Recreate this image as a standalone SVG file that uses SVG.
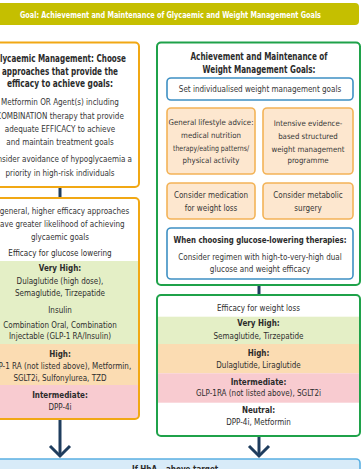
<svg xmlns="http://www.w3.org/2000/svg" width="362" height="469" viewBox="0 0 362 469">
<defs>
<style>
text{font-family:"Liberation Sans Narrow","DejaVu Sans Condensed","DejaVu Sans",sans-serif;font-stretch:condensed;fill:#363636;text-anchor:middle;font-size:8px}
.h{font-weight:bold;font-size:10px;fill:#2b2b2b}
.lb{font-weight:bold;fill:#2b2b2b}
.dk{fill:#2e2e2e}
.w{fill:#ffffff;font-weight:bold;font-size:8.4px}
.sm{font-size:7.8px}
.org{fill:#ffffff;stroke:#f1a814;stroke-width:2}
.grn{fill:#ffffff;stroke:#1fa24a;stroke-width:2}
.blu{fill:#ffffff;stroke:#3e90c3;stroke-width:1.6}
.pch{fill:#fde7cf;stroke:#f3b357;stroke-width:1.6}
.bg{fill:#e4efc6}
.bo{fill:#fbdcb2}
.bp{fill:#f8cbd0}
.con{stroke:#1f3d5e;stroke-width:3;fill:none}
</style>
<clipPath id="c1"><rect x="-19" y="198" width="158" height="221" rx="4"/></clipPath>
<clipPath id="c2"><rect x="157" y="295" width="203" height="141" rx="4"/></clipPath>
</defs>
<g id="goal">
<rect x="-10" y="3" width="369" height="22" rx="4" fill="#c5bf00"/>
<text class="w" x="170.5" y="18" textLength="301" lengthAdjust="spacingAndGlyphs">Goal: Achievement and Maintenance of Glycaemic and Weight Management Goals</text>
</g>
<g id="connectors">
<line class="con" x1="60" y1="187" x2="60" y2="198"/>
<line class="con" x1="259" y1="285" x2="259" y2="295"/>
<line class="con" x1="60" y1="419" x2="60" y2="455"/>
<path class="con" d="M50 446 L60 456 L70 446"/>
<line class="con" x1="259" y1="436" x2="259" y2="455"/>
<path class="con" d="M249 446 L259 456 L269 446"/>
</g>
<g id="glycaemic-management">
<rect class="org" x="-19" y="42.5" width="158" height="144.5" rx="4"/>
<text class="h" x="60" y="61.9" textLength="132" lengthAdjust="spacingAndGlyphs">Glycaemic Management: Choose</text>
<text class="h" x="60" y="74.6" textLength="116" lengthAdjust="spacingAndGlyphs">approaches that provide the</text>
<text class="h" x="60" y="87.1" textLength="106" lengthAdjust="spacingAndGlyphs">efficacy to achieve goals:</text>
<text x="60" y="105.2">Metformin OR Agent(s) including</text>
<text x="60" y="118.9">COMBINATION therapy that provide</text>
<text x="60" y="132.2">adequate EFFICACY to achieve</text>
<text x="60" y="144.6">and maintain treatment goals</text>
<text x="60" y="161.9">Consider avoidance of hypoglycaemia a</text>
<text x="60" y="175.6">priority in high-risk individuals</text>
</g>
<g id="glucose-efficacy">
<g clip-path="url(#c1)">
<rect x="-19" y="198" width="158" height="221" fill="#ffffff"/>
<rect class="bg" x="-19" y="261" width="158" height="83"/>
<rect class="bo" x="-19" y="344" width="158" height="41"/>
<rect class="bp" x="-19" y="385" width="158" height="34"/>
</g>
<rect x="-19" y="198" width="158" height="221" rx="4" fill="none" stroke="#f1a814" stroke-width="2"/>
<text x="60" y="213.9">In general, higher efficacy approaches</text>
<text x="60" y="227.2">have greater likelihood of achieving</text>
<text x="60" y="239.6">glycaemic goals</text>
<text class="dk" x="60" y="255.6">Efficacy for glucose lowering</text>
<text class="lb" x="60" y="270.6">Very High:</text>
<text class="dk" x="60" y="283.9">Dulaglutide (high dose),</text>
<text class="dk" x="60" y="296.2">Semaglutide, Tirzepatide</text>
<text class="dk" x="60" y="312.9">Insulin</text>
<text class="dk" x="60" y="327.9">Combination Oral, Combination</text>
<text class="dk" x="60" y="339.4">Injectable (GLP-1 RA/Insulin)</text>
<text class="lb" x="60" y="356.9">High:</text>
<text class="dk" x="60" y="368.9">GLP-1 RA (not listed above), Metformin,</text>
<text class="dk" x="60" y="381.2">SGLT2i, Sulfonylurea, TZD</text>
<text class="lb" x="60" y="398.2">Intermediate:</text>
<text class="dk" x="60" y="410.2">DPP-4i</text>
</g>
<g id="weight-management">
<rect class="grn" x="157" y="42.5" width="203" height="242.5" rx="4"/>
<text class="h" x="259" y="59.6" textLength="137" lengthAdjust="spacingAndGlyphs">Achievement and Maintenance of</text>
<text class="h" x="259" y="72.9" textLength="113" lengthAdjust="spacingAndGlyphs">Weight Management Goals:</text>
</g>
<g id="set-goals">
<rect class="blu" x="167" y="78" width="186" height="22" rx="4"/>
<text x="260" y="91.9">Set individualised weight management goals</text>
</g>
<g id="lifestyle-advice">
<rect class="pch" x="167" y="108" width="88" height="66" rx="4"/>
<text class="sm" x="211" y="124.6">General lifestyle advice:</text>
<text class="sm" x="211" y="137.6">medical nutrition</text>
<text class="sm" x="211" y="150.6" textLength="76" lengthAdjust="spacingAndGlyphs">therapy/eating patterns/</text>
<text class="sm" x="211" y="163.4">physical activity</text>
</g>
<g id="structured-programme">
<rect class="pch" x="263" y="108" width="90" height="66" rx="4"/>
<text class="sm" x="308" y="126.2">Intensive evidence-</text>
<text class="sm" x="308" y="138.9">based structured</text>
<text class="sm" x="308" y="151.6">weight management</text>
<text class="sm" x="308" y="163.2">programme</text>
</g>
<g id="weight-medication">
<rect class="pch" x="167" y="183" width="88" height="36" rx="4"/>
<text x="211" y="197.9">Consider medication</text>
<text x="211" y="211.2">for weight loss</text>
</g>
<g id="metabolic-surgery">
<rect class="pch" x="263" y="183" width="90" height="36" rx="4"/>
<text x="308" y="197.9">Consider metabolic</text>
<text x="308" y="211.2">surgery</text>
</g>
<g id="dual-efficacy">
<rect class="blu" x="167" y="228" width="186" height="51" rx="4"/>
<text class="lb" x="260" y="243.4" style="font-size:9.4px" textLength="173" lengthAdjust="spacingAndGlyphs">When choosing glucose-lowering therapies:</text>
<text x="260" y="259.6">Consider regimen with high-to-very-high dual</text>
<text x="260" y="272.2">glucose and weight efficacy</text>
</g>
<g id="weight-efficacy">
<g clip-path="url(#c2)">
<rect x="157" y="295" width="203" height="141" fill="#ffffff"/>
<rect class="bg" x="157" y="316.7" width="203" height="27.3"/>
<rect class="bo" x="157" y="344" width="203" height="29.3"/>
<rect class="bp" x="157" y="373.3" width="203" height="29.4"/>
</g>
<rect x="157" y="295" width="203" height="141" rx="4" fill="none" stroke="#1fa24a" stroke-width="2"/>
<text class="dk" x="258.5" y="311.2">Efficacy for weight loss</text>
<text class="lb" x="258.5" y="326.2">Very High:</text>
<text class="dk" x="258.5" y="338.9">Semaglutide, Tirzepatide</text>
<text class="lb" x="258.5" y="356.2">High:</text>
<text class="dk" x="258.5" y="367.9">Dulaglutide, Liraglutide</text>
<text class="lb" x="258.5" y="384.6">Intermediate:</text>
<text class="dk" x="258.5" y="396.2">GLP-1RA (not listed above), SGLT2i</text>
<text class="lb" x="258.5" y="412.9">Neutral:</text>
<text class="dk" x="258.5" y="424.6">DPP-4i, Metformin</text>
</g>
<g id="hba1c-above-target">
<rect x="-5" y="459" width="365" height="30" rx="4" fill="#d8ebf8" stroke="#5ab0e2" stroke-width="1.6"/>
<text class="lb" x="132" y="472" style="text-anchor:start">If HbA<tspan style="font-size:5.5px" dy="2">1c</tspan><tspan dy="-2"> above target</tspan></text>
</g>
</svg>
